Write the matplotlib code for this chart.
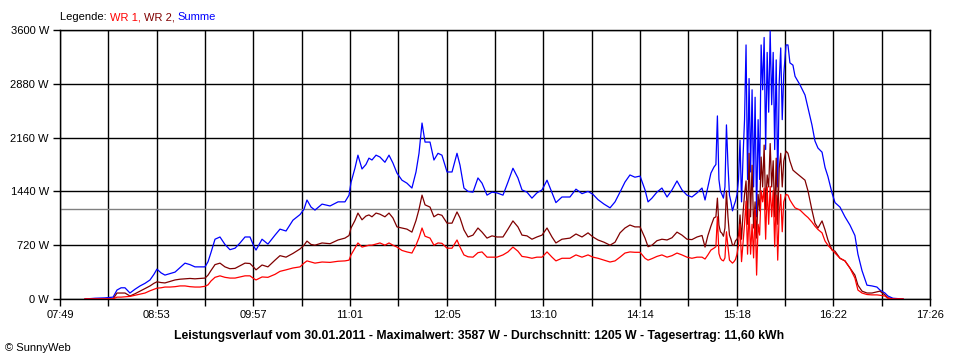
import matplotlib
matplotlib.use("Agg")
import matplotlib.pyplot as plt
import numpy as np

plt.rcParams['font.family'] = ['Liberation Sans', 'DejaVu Sans']

# time in minutes after 07:49
t = [16.6, 23.2, 29.8, 35.2, 37.8, 40.5, 43.1, 46.4, 49.7, 53.1, 56.4, 59.7, 62.3, 64.3, 67.0, 69.6,
     73.0, 76.3, 79.6, 82.9, 86.2, 89.5, 92.8, 96.2, 98.2, 100.1, 102.8, 106.1, 109.4, 112.7, 116.1,
     119.4, 122.7, 126.0, 128.7, 130.0, 134.0, 137.9, 142.6, 145.9, 149.9, 154.5, 159.2, 161.8, 163.8,
     166.5, 169.1, 173.8, 179.1, 184.4, 189.0, 191.7, 193.0, 195.6, 197.6, 200.3, 202.9, 204.9, 206.9,
     209.6, 212.2, 215.5, 218.2, 220.8, 223.5, 226.8, 230.1, 233.4, 236.1, 238.1, 240.1, 242.1, 245.4,
     248.0, 250.7, 253.3, 256.7, 260.0, 263.3, 265.3, 267.9, 270.6, 273.9, 277.2, 279.9, 283.2, 286.5,
     289.8, 293.8, 297.1, 300.4, 303.7, 306.4, 309.7, 313.0, 316.3, 319.7, 323.0, 326.3, 328.9, 332.9,
     338.2, 342.2, 346.2, 350.2, 353.5, 356.8, 360.8, 364.8, 368.1, 371.4, 374.7, 378.0, 381.3, 384.7,
     388.0, 390.0, 392.6, 395.9, 399.2, 402.6, 405.9, 409.2, 412.5, 415.8, 419.1, 422.5, 425.8, 427.8,
     429.7, 431.7, 433.7,
     435, 436, 437, 438, 439, 440, 441, 442, 443, 444, 445, 446, 447, 448, 449, 450, 451, 452, 453,
     454, 455, 456, 457, 458, 459, 460, 461, 462, 463, 464, 465, 466, 467, 468, 469, 470, 471, 472,
     473, 474, 475, 476, 477, 478, 479, 480,
     481.5, 482.8, 484.1, 486.1, 487.5, 490.8, 494.1, 496.1, 498.7, 500.7, 502.7, 505.4, 507.4, 509.3,
     512.0, 514.0, 517.3, 520.6, 523.9, 527.2, 529.2, 531.9, 535.2, 538.5, 541.8, 543.8, 547.1, 549.1,
     552.4, 559.1]

summe = [0, 10, 15, 25, 120, 150, 150, 80, 130, 175, 210, 255, 330, 400, 350, 320,
         340, 360, 420, 480, 460, 430, 430, 430, 500, 620, 800, 830, 730, 660, 680,
         750, 830, 830, 700, 655, 800, 735, 855, 935, 910, 1055, 1130, 1200, 1325,
         1230, 1190, 1270, 1245, 1300, 1300, 1390, 1560, 1750, 1925, 1740, 1800, 1885, 1860,
         1925, 1900, 1830, 1925, 1820, 1685, 1590, 1550, 1485, 1700, 1950, 2355, 2100, 2100,
         1860, 1950, 1925, 1700, 1700, 1950, 1790, 1485, 1440, 1430, 1620, 1550, 1390, 1430,
         1420, 1390, 1565, 1750, 1620, 1460, 1430, 1350, 1420, 1460, 1590, 1420, 1290, 1365,
         1365, 1470, 1410, 1440, 1400, 1330, 1270, 1220, 1300, 1430, 1565, 1660, 1630, 1645,
         1460, 1300, 1350, 1430, 1485, 1365, 1460, 1580, 1460, 1390, 1365, 1420, 1485, 1325,
         1500, 1685, 1765,
         1800, 2450, 1600, 1445, 1400, 1350, 1500, 2330, 1800, 1390, 1300, 1180, 1250, 1310, 1400,
         1600, 2125, 1300, 1900, 2400, 3400, 1600, 2950, 1700, 2800, 1500, 2700, 1100, 2400, 1600,
         3400, 2800, 3500, 2000, 3300, 2500, 3587, 2600, 3300, 2000, 3200, 1500, 2900, 3360, 2400, 3000,
         3400, 3400, 3160, 3130, 2980, 2865, 2730, 2555, 2330, 2115, 2020, 1965, 1760, 1640,
         1420, 1290, 1230, 1100, 990, 850, 600, 380, 185, 175, 160, 120, 80, 40,
         10, 0]

wr2 = [0, 0, 0, 0, 80, 80, 80, 40, 70, 105, 140, 175, 210, 230, 220, 215,
       235, 255, 265, 270, 275, 270, 275, 280, 320, 380, 460, 480, 430, 405, 410,
       445, 480, 475, 420, 390, 455, 430, 520, 580, 560, 610, 670, 720, 775,
       730, 720, 750, 740, 790, 815, 850, 950, 1050, 1150, 1060, 1110, 1125, 1100,
       1150, 1135, 1100, 1150, 1085, 965, 950, 935, 895, 1050, 1200, 1390, 1260, 1230,
       1100, 1135, 1120, 1015, 1015, 1165, 1085, 925, 830, 855, 950, 895, 815, 845,
       830, 830, 935, 1045, 965, 855, 845, 800, 830, 855, 950, 830, 750, 800,
       815, 870, 830, 885, 830, 790, 760, 720, 760, 885, 950, 990, 965, 965,
       815, 700, 720, 780, 800, 790, 820, 895, 855, 800, 795, 830, 850, 695,
       850, 975, 1085,
       1100, 1350, 990, 900, 880, 840, 950, 1445, 1100, 855, 800, 720, 720, 780, 800,
       850, 1125, 800, 1150, 1400, 1580, 1000, 1950, 1100, 1790, 950, 1300, 815, 1400, 1180,
       1900, 1500, 2060, 1200, 1660, 1500, 2080, 1500, 1850, 1100, 1885, 1000, 1750, 1950, 1500, 1845,
       1980, 1950, 1845, 1725, 1700, 1645, 1590, 1445, 1190, 1015, 950, 1045, 925, 790,
       655, 640, 545, 510, 415, 320, 185, 105, 80, 80, 95, 105, 55, 15,
       0, 0]

wr1 = [0, 0, 0, 0, 25, 25, 30, 35, 50, 65, 80, 110, 130, 145, 150, 160,
       160, 165, 175, 175, 165, 160, 160, 170, 190, 240, 290, 310, 290, 280, 280,
       295, 310, 310, 270, 255, 295, 290, 330, 370, 390, 415, 430, 480, 510,
       495, 480, 495, 490, 505, 510, 520, 590, 680, 750, 695, 710, 720, 720,
       735, 750, 720, 750, 720, 695, 650, 630, 615, 720, 820, 950, 840, 815,
       720, 750, 745, 680, 680, 790, 695, 590, 565, 560, 620, 630, 560, 560,
       560, 590, 630, 695, 640, 570, 560, 545, 560, 560, 630, 560, 510, 545,
       545, 590, 560, 590, 560, 545, 520, 495, 510, 560, 615, 630, 625, 625,
       545, 520, 540, 570, 590, 560, 580, 615, 590, 560, 545, 560, 560, 535,
       590, 655, 680,
       700, 1100, 610, 545, 520, 510, 550, 900, 700, 520, 500, 480, 500, 530, 600,
       720, 1000, 500, 750, 1000, 1310, 600, 1200, 600, 1000, 550, 1200, 320, 1000, 855,
       1450, 1300, 1485, 800, 1500, 1000, 1507, 1100, 1450, 700, 1390, 520, 1150, 1400, 900, 1300,
       1400, 1390, 1325, 1260, 1220, 1190, 1125, 1090, 1030, 975, 930, 885, 775, 720,
       660, 615, 545, 510, 415, 280, 120, 80, 60, 55, 55, 50, 40, 10,
       0, 0]

durchschnitt = 1205
x_labels = ['07:49', '08:53', '09:57', '11:01', '12:05', '13:10', '14:14', '15:18', '16:22', '17:26']
y_ticks = [0, 720, 1440, 2160, 2880, 3600]
y_labels = ['0 W', '720 W', '1440 W', '2160 W', '2880 W', '3600 W']
span = 577  # minutes from 07:49 to 17:26

fig = plt.figure(figsize=(9.6, 3.6), dpi=100)
ax = fig.add_axes([60/960, 61/360, 870/960, 269/360])

ax.plot(t, summe, color='#0000ff', lw=0.9, zorder=3)
ax.plot(t, wr2, color='#800000', lw=0.9, zorder=4)
ax.plot(t, wr1, color='#ff0000', lw=0.9, zorder=5)
ax.axhline(durchschnitt, color='#808080', lw=1.0, zorder=1)

ax.set_xlim(0, span)
ax.set_ylim(0, 3600)
major = np.linspace(0, span, len(x_labels))
minor = (major[:-1] + major[1:]) / 2
ax.set_xticks(major)
ax.set_xticklabels(x_labels)
ax.set_xticks(minor, minor=True)
ax.set_yticks(y_ticks)
ax.set_yticklabels(y_labels)
ax.grid(True, which='both', color='black', lw=1.0, zorder=0)
ax.set_axisbelow(True)
ax.tick_params(which='both', direction='out', length=5, width=1, color='black',
               labelsize=8, pad=3)
for s in ax.spines.values():
    s.set_linewidth(1.0)

t1 = fig.text(60/960, 1 - 17/360, 'Legende: ', fontsize=8, va='center', color='black')
t2 = ax.annotate('WR 1, ', xy=(1, 0), xycoords=t1, va='bottom', fontsize=8, color='#ff0000')
t3 = ax.annotate('WR 2, ', xy=(1, 0), xycoords=t2, va='bottom', fontsize=8, color='#800000')
ax.annotate('Summe', xy=(1, 0), xycoords=t3, va='bottom', fontsize=8, color='#0000ff')

fig.text(479/960, 1 - 336/360,
         'Leistungsverlauf vom 30.01.2011 - Maximalwert: 3587 W - Durchschnitt: 1205 W - Tagesertrag: 11,60 kWh',
         ha='center', va='center', fontsize=8.8, fontweight='bold')
fig.text(5/960, 1 - 348/360, '© SunnyWeb', fontsize=8, va='center')

fig.savefig('out.png', dpi=100)
